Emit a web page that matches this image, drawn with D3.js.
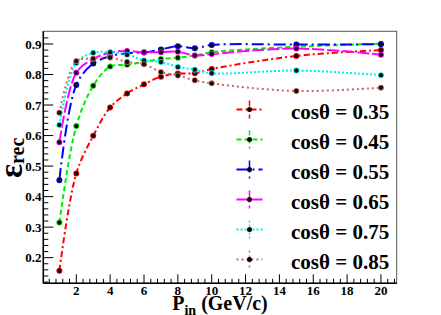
<!DOCTYPE html>
<html>
<head>
<meta charset="utf-8">
<script src="https://cdn.jsdelivr.net/npm/d3@7"></script>
<style>
  body { margin: 0; background: #fff; }
  svg { display: block; font-family: 'Liberation Serif', 'Times New Roman', serif; }
  .tick-label { font-size: 13px; font-weight: bold; }
</style>
</head>
<body>
<div id="chart"></div>
<script>
// momentum points (GeV/c)
var pIn = [1, 2, 3, 4, 5, 6, 7, 8, 9, 10, 15, 20];

// efficiency for each cos(theta) bin
var eff035 = [0.157, 0.476, 0.599, 0.692, 0.738, 0.768, 0.793, 0.803, 0.804, 0.818, 0.861, 0.880];
var eff045 = [0.315, 0.631, 0.763, 0.826, 0.832, 0.841, 0.851, 0.855, 0.862, 0.873, 0.891, 0.901];
var eff055 = [0.454, 0.766, 0.836, 0.860, 0.870, 0.872, 0.882, 0.893, 0.886, 0.897, 0.898, 0.899];
var eff065 = [0.578, 0.806, 0.851, 0.872, 0.877, 0.873, 0.873, 0.875, 0.862, 0.867, 0.885, 0.865];
var eff075 = [0.635, 0.838, 0.871, 0.873, 0.865, 0.846, 0.841, 0.825, 0.816, 0.804, 0.813, 0.798];
var eff085 = [0.675, 0.844, 0.852, 0.856, 0.841, 0.834, 0.808, 0.797, 0.781, 0.771, 0.746, 0.757];

var cosLabels = ['cosθ = 0.35', 'cosθ = 0.45', 'cosθ = 0.55', 'cosθ = 0.65', 'cosθ = 0.75', 'cosθ = 0.85'];
var seriesValues = [eff035, eff045, eff055, eff065, eff075, eff085];

var xTicks = [2, 4, 6, 8, 10, 12, 14, 16, 18, 20];
var yTicks = [0.2, 0.3, 0.4, 0.5, 0.6, 0.7, 0.8, 0.9];

var colors = ['#ff0000', '#00ee00', '#0000ff', '#ff00ff', '#00eeee', '#cc6666'];
var dashes = ['6,3,2,3', '5,3', '12,4,2,4', '12,3', '2,2', '2,3'];

var W = 441, H = 315;
var fLeft = 43.3, fRight = 396.7, fTop = 31.3, fBottom = 283.3;

var svg = d3.select('#chart')
  .append('svg')
    .attr('width', W)
    .attr('height', H);

var x = d3.scaleLinear().domain([0.05, 20.93]).range([fLeft, fRight]);
var y = d3.scaleLinear().domain([0.116, 0.9416]).range([fBottom, fTop]);

// frame
svg.append('rect')
  .attr('x', fLeft)
  .attr('y', fTop)
  .attr('width', fRight - fLeft)
  .attr('height', fBottom - fTop)
  .attr('fill', '#fff')
  .attr('stroke', '#555')
  .attr('stroke-width', 1);

// minor and major ticks (drawn inside the frame, ROOT style)
var xMinor = d3.range(0.4, 20.9, 0.4);
svg.append('g').selectAll('line')
  .data(xMinor)
  .enter().append('line')
    .attr('x1', function(d) { return x(d); })
    .attr('x2', function(d) { return x(d); })
    .attr('y1', fBottom)
    .attr('y2', function(d) { return Math.abs(d / 2 - Math.round(d / 2)) < 1e-6 ? fBottom - 9 : fBottom - 4.5; })
    .attr('stroke', '#000')
    .attr('stroke-width', 1);

var yMinor = d3.range(0.12, 0.94, 0.02);
svg.append('g').selectAll('line')
  .data(yMinor)
  .enter().append('line')
    .attr('y1', function(d) { return y(d); })
    .attr('y2', function(d) { return y(d); })
    .attr('x1', fLeft)
    .attr('x2', function(d) { return Math.abs(d * 10 - Math.round(d * 10)) < 1e-6 ? fLeft + 10 : fLeft + 5; })
    .attr('stroke', '#000')
    .attr('stroke-width', 1);

// axis lines
svg.append('line')
  .attr('x1', fLeft).attr('x2', fRight)
  .attr('y1', fBottom).attr('y2', fBottom)
  .attr('stroke', '#000').attr('stroke-width', 1.5);
svg.append('line')
  .attr('x1', fLeft).attr('x2', fLeft)
  .attr('y1', fTop).attr('y2', fBottom)
  .attr('stroke', '#000').attr('stroke-width', 1.5);

// tick labels
svg.append('g').selectAll('text')
  .data(xTicks)
  .enter().append('text')
    .attr('class', 'tick-label')
    .attr('x', function(d) { return x(d); })
    .attr('y', 295)
    .attr('text-anchor', 'middle')
    .text(function(d) { return d; });

svg.append('g').selectAll('text')
  .data(yTicks)
  .enter().append('text')
    .attr('class', 'tick-label')
    .attr('x', 41.5)
    .attr('y', function(d) { return y(d); })
    .attr('dy', '0.35em')
    .attr('text-anchor', 'end')
    .text(function(d) { return d3.format('.1f')(d); });

// axis titles
var xt = svg.append('text')
  .attr('x', (fLeft + fRight) / 2)
  .attr('y', 310)
  .attr('text-anchor', 'middle')
  .attr('font-weight', 'bold')
  .attr('font-size', 20);
xt.append('tspan').text('P');
xt.append('tspan').attr('font-size', 14).attr('dy', 5).text('in');
xt.append('tspan').attr('dy', -5).text(' (GeV/c)');

var yt = svg.append('text')
  .attr('transform', 'translate(22,178) rotate(-90)')
  .attr('text-anchor', 'start')
  .attr('font-weight', 'bold');
yt.append('tspan').attr('font-size', 33).text('ε');
yt.append('tspan').attr('font-size', 20).attr('dy', 2).text('rec');

// curves
var line = d3.line()
  .x(function(d) { return x(d[0]); })
  .y(function(d) { return y(d[1]); })
  .curve(d3.curveCatmullRom.alpha(0.5));

var plot = svg.append('g');

seriesValues.forEach(function(vals, i) {
  var pts = pIn.map(function(p, j) { return [p, vals[j]]; });
  plot.append('path')
    .datum(pts)
    .attr('fill', 'none')
    .attr('stroke', colors[i])
    .attr('stroke-width', 2)
    .attr('stroke-dasharray', dashes[i])
    .attr('d', line);
});

seriesValues.forEach(function(vals, i) {
  var pts = pIn.map(function(p, j) { return [p, vals[j]]; });
  var g = plot.append('g');
  g.selectAll('circle.ring')
    .data(pts)
    .enter().append('circle')
      .attr('class', 'ring')
      .attr('cx', function(d) { return x(d[0]); })
      .attr('cy', function(d) { return y(d[1]); })
      .attr('r', 3)
      .attr('fill', colors[i]);
  g.selectAll('circle.dot')
    .data(pts)
    .enter().append('circle')
      .attr('class', 'dot')
      .attr('cx', function(d) { return x(d[0]); })
      .attr('cy', function(d) { return y(d[1]); })
      .attr('r', 2.2)
      .attr('fill', '#111');
});

// legend
var legend = svg.append('g')
  .selectAll('g')
  .data(cosLabels)
  .enter().append('g')
    .attr('transform', function(d, i) { return 'translate(249.5,' + (109.5 + i * 30) + ')'; });

legend.append('line')
  .attr('x1', -13).attr('x2', 13)
  .attr('y1', 0).attr('y2', 0)
  .attr('stroke', function(d, i) { return colors[i]; })
  .attr('stroke-width', 2)
  .attr('stroke-dasharray', function(d, i) { return dashes[i]; });

legend.append('line')
  .attr('x1', 0).attr('x2', 0)
  .attr('y1', -9).attr('y2', 9)
  .attr('stroke', function(d, i) { return colors[i]; })
  .attr('stroke-width', 1.5)
  .attr('stroke-dasharray', function(d, i) { return dashes[i]; });

legend.append('circle')
  .attr('r', 2.5)
  .attr('fill', '#000');

legend.append('text')
  .attr('x', 41.5)
  .attr('y', 9.5)
  .attr('font-size', 21)
  .attr('font-weight', 'bold')
  .text(function(d) { return d; });
</script>
</body>
</html>
